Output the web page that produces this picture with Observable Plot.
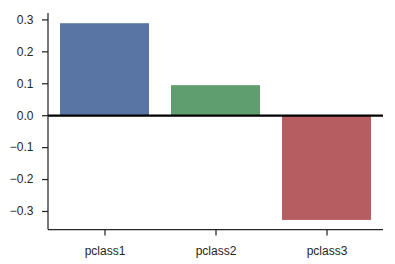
<!DOCTYPE html>
<html>
<head>
<meta charset="utf-8">
<script src="https://cdn.jsdelivr.net/npm/d3@7"></script>
<script src="https://cdn.jsdelivr.net/npm/@observablehq/plot@0.6"></script>
<style>
  html, body { margin: 0; padding: 0; background: #fff; }
  svg { display: block; }
</style>
</head>
<body>
<div id="chart"></div>
<script>
const categories = ["pclass1", "pclass2", "pclass3"];
const values = [0.288, 0.094, -0.328];
const colors = ["#5975a4", "#5f9e6e", "#b55d60"];
const yTicks = [-0.3, -0.2, -0.1, 0.0, 0.1, 0.2, 0.3];

const data = categories.map((c, i) => ({category: c, value: values[i], color: colors[i]}));

// left and bottom spines (seaborn "despine" style), drawn from the plot's dimensions
function spines(index, scales, values, dimensions) {
  const {width, height, marginLeft, marginRight, marginTop, marginBottom} = dimensions;
  const g = d3.create("svg:g").attr("stroke", "#262626").attr("stroke-width", 1.25).attr("fill", "none");
  g.append("line").attr("x1", marginLeft).attr("x2", marginLeft).attr("y1", marginTop).attr("y2", height - marginBottom);
  g.append("line").attr("x1", marginLeft).attr("x2", width - marginRight).attr("y1", height - marginBottom).attr("y2", height - marginBottom);
  return g.node();
}

const chart = Plot.plot({
  width: 395,
  height: 264,
  marginLeft: 48,
  marginRight: 12,
  marginTop: 13,
  marginBottom: 34.5,
  style: {fontFamily: "'Liberation Sans', Arial, sans-serif", fontSize: "12px", color: "#262626", background: "#fff"},
  x: {domain: categories, paddingInner: 0.2, paddingOuter: 0.1, label: null},
  y: {domain: [-0.358, 0.32], label: null},
  marks: [
    Plot.barY(data, {x: "category", y: "value", fill: "color"}),
    Plot.ruleY([0], {stroke: "#000", strokeWidth: 2.2}),
    Plot.axisX({tickSize: 6, tickPadding: 10, fontSize: 12, stroke: "#262626", strokeWidth: 1.25, fill: "#262626", label: null}),
    Plot.axisY({ticks: yTicks, tickFormat: d => d.toFixed(1).replace("-", "\u2212"), tickSize: 6, tickPadding: 9, fontSize: 12, stroke: "#262626", strokeWidth: 1.25, fill: "#262626", label: null}),
    spines
  ]
});
document.getElementById("chart").appendChild(chart);
</script>
</body>
</html>
